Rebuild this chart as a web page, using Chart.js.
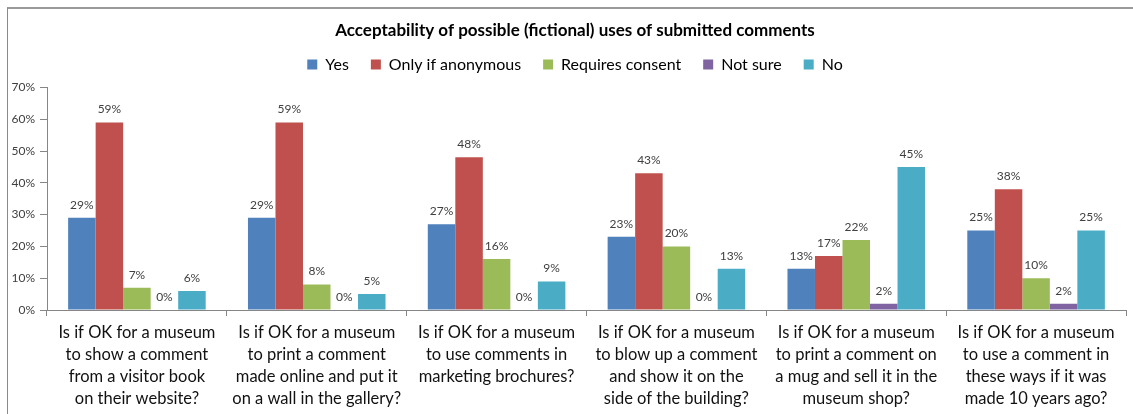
<!DOCTYPE html>
<html>
<head>
<meta charset="utf-8">
<script src="https://cdn.jsdelivr.net/npm/chart.js@4/dist/chart.umd.min.js"></script>
<style>
  body { margin: 0; background: #fff; }
  #wrap { position: relative; width: 1133px; height: 414px; overflow: hidden; }
  #frame { position: absolute; left: 7px; top: 7px; width: 1140px; height: 420px;
           border-left: 1px solid #8a8a8a; border-top: 2px solid #9a9a9a; }
  canvas { position: absolute; left: 0; top: 0; }
</style>
</head>
<body>
<div id="wrap">
  <div id="frame"></div>
  <canvas id="chart" width="1133" height="414"></canvas>
</div>
<script>
// questions asked, one group of bars each
const questions = [
  ['Is if OK for a museum', 'to show a comment', 'from a visitor book', 'on their website?'],
  ['Is if OK for a museum', 'to print a comment', 'made online and put it', 'on a wall in the gallery?'],
  ['Is if OK for a museum', 'to use comments in', 'marketing brochures?'],
  ['Is if OK for a museum', 'to blow up a comment', 'and show it on the', 'side of the building?'],
  ['Is if OK for a museum', 'to print a comment on', 'a mug and sell it in the', 'museum shop?'],
  ['Is if OK for a museum', 'to use a comment in', 'these ways if it was', 'made 10 years ago?']
]

// answers, in percent
const yes = [29, 29, 27, 23, 13, 25]
const onlyIfAnonymous = [59, 59, 48, 43, 17, 38]
const requiresConsent = [7, 8, 16, 20, 22, 10]
const notSure = [0, 0, 0, 0, 2, 2]
const no = [6, 5, 9, 13, 45, 25]

const yTicks = [0, 10, 20, 30, 40, 50, 60, 70]

const FONT = 'Lato, "Noto Sans", sans-serif'

// percent label above every bar
const barLabels = {
  id: 'barLabels',
  afterDatasetsDraw(chart) {
    const ctx = chart.ctx
    ctx.save()
    ctx.font = '12px ' + FONT
    ctx.fillStyle = '#404040'
    ctx.textAlign = 'center'
    ctx.textBaseline = 'bottom'
    chart.data.datasets.forEach((ds, i) => {
      chart.getDatasetMeta(i).data.forEach((bar, j) => {
        ctx.fillText(ds.data[j] + '%', bar.x, bar.y - 7)
      })
    })
    ctx.restore()
  }
}

// a bit more room under the legend
const legendGap = {
  id: 'legendGap',
  beforeInit(chart) {
    const fit = chart.legend.fit
    chart.legend.fit = function () {
      fit.call(this)
      this.height += 5
    }
  }
}

// title and legend sit a little right of the plot centre
const shiftHeader = {
  id: 'shiftHeader',
  afterLayout(chart) {
    [chart.titleBlock, chart.legend].forEach(box => {
      if (!box) return
      box.left += 12
      box.right += 12
    })
  }
}

const ctx = document.getElementById('chart').getContext('2d')

const chart = new Chart(ctx, {
  type: 'bar',
  data: {
    labels: questions,
    datasets: [
      { label: 'Yes', data: yes, backgroundColor: '#4F81BD' },
      { label: 'Only if anonymous', data: onlyIfAnonymous, backgroundColor: '#C0504D' },
      { label: 'Requires consent', data: requiresConsent, backgroundColor: '#9BBB59' },
      { label: 'Not sure', data: notSure, backgroundColor: '#8064A2' },
      { label: 'No', data: no, backgroundColor: '#4BACC6' }
    ]
  },
  options: {
    responsive: false,
    animation: false,
    layout: { padding: { left: 0, right: 7, top: 0, bottom: 0 } },
    datasets: {
      bar: { categoryPercentage: 0.765, barPercentage: 1.0 }
    },
    plugins: {
      title: {
        display: true,
        text: 'Acceptability of possible (fictional) uses of submitted comments',
        color: '#000',
        font: { family: FONT, size: 17, weight: 'bold' },
        padding: { top: 20, bottom: -6 }
      },
      legend: {
        display: true,
        labels: {
          color: '#000',
          font: { family: FONT, size: 16 },
          boxWidth: 10,
          boxHeight: 10,
          padding: 22
        }
      },
      tooltip: { enabled: false }
    },
    scales: {
      x: {
        afterFit(scale) {
          scale.height = 104
        },
        grid: {
          offset: true,
          drawOnChartArea: false,
          drawTicks: true,
          tickLength: 6,
          color: '#868686'
        },
        border: { color: '#868686' },
        ticks: {
          color: '#111',
          font: { family: FONT, size: 16.5, lineHeight: 1.333 },
          padding: 6,
          maxRotation: 0,
          autoSkip: false
        }
      },
      y: {
        min: 0,
        max: 70,
        afterBuildTicks(scale) {
          scale.ticks = yTicks.map(v => ({ value: v }))
        },
        afterFit(scale) {
          scale.width = 47
        },
        grid: {
          drawOnChartArea: false,
          drawTicks: true,
          tickLength: 7,
          color: '#868686'
        },
        border: { color: '#868686' },
        ticks: {
          color: '#404040',
          font: { family: FONT, size: 12 },
          padding: 5,
          callback: v => v + '%'
        }
      }
    }
  },
  plugins: [barLabels, legendGap, shiftHeader]
})
</script>
</body>
</html>
